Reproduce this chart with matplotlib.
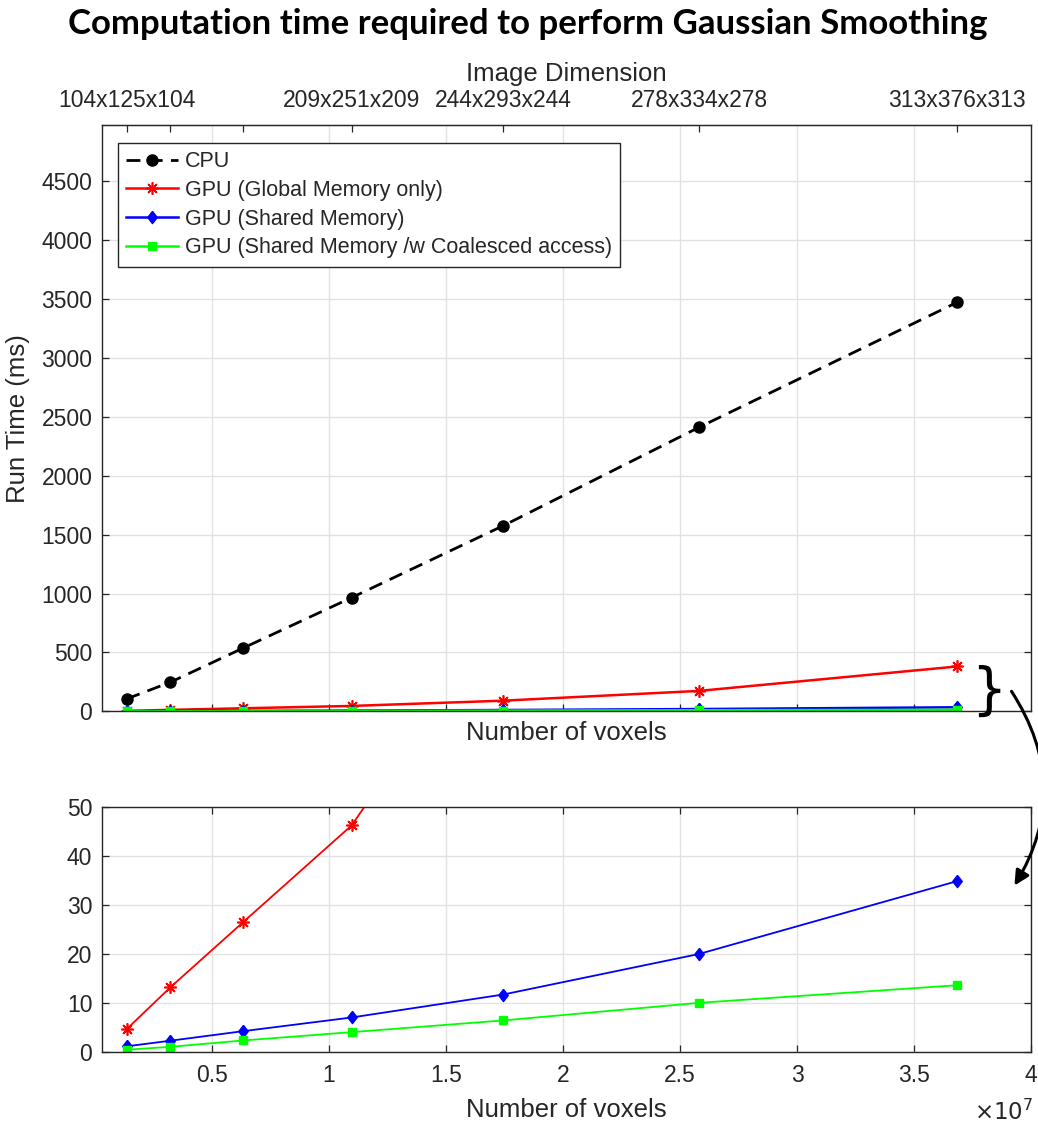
import matplotlib
matplotlib.use("Agg")
import matplotlib.pyplot as plt

# ------------------------------
# Data
# ------------------------------
voxels = [1352000, 3226607, 6327684, 10963931, 17444048, 25812856, 36836344]
dim_labels = ['104x125x104', '', '', '209x251x209', '244x293x244',
              '278x334x278', '313x376x313']

cpu_ms = [106, 248, 537, 965, 1575, 2410, 3470]
gpu_global_ms = [4.6, 13.2, 26.5, 46.3, 91, 174, 381]
gpu_shared_ms = [1.1, 2.25, 4.2, 7.0, 11.7, 20.0, 34.9]
gpu_coalesced_ms = [0.4, 1.0, 2.3, 4.0, 6.4, 10.0, 13.6]

series_names = ['CPU', 'GPU (Global Memory only)', 'GPU (Shared Memory)',
                'GPU (Shared Memory /w Coalesced access)']

x_ticks = [0.5e7, 1e7, 1.5e7, 2e7, 2.5e7, 3e7, 3.5e7, 4e7]
x_ticklabels = ['0.5', '1', '1.5', '2', '2.5', '3', '3.5', '4']
y_ticks_top = list(range(0, 5000, 500))
y_ticks_bottom = [0, 10, 20, 30, 40, 50]

# ------------------------------
# Style
# ------------------------------
plt.rcParams['font.family'] = ['Liberation Sans', 'DejaVu Sans']
AX = '#262626'
GRID = '#e2e2e2'
TICK_FS = 16.5
LABEL_FS = 18.5
diamond = [(0, 1), (0.78, 0), (0, -1), (-0.78, 0), (0, 1)]
asterisk = (8, 2, 0)


def style_axes(ax):
    for s in ax.spines.values():
        s.set_color(AX)
        s.set_linewidth(1.0)
    ax.grid(True, color=GRID, linewidth=1.0)
    ax.set_axisbelow(True)
    ax.tick_params(direction='in', length=5, width=0.9, colors=AX,
                   labelsize=TICK_FS, labelcolor=AX)


def draw_series(ax, lw, lw_gpu, ms):
    ax.plot(voxels, cpu_ms, '--', color='k', lw=lw, marker='o', ms=ms,
            dashes=(5, 3), label=series_names[0])
    ax.plot(voxels, gpu_global_ms, '-', color='r', lw=lw_gpu, marker=asterisk,
            ms=ms * 1.1, mew=1.2, mec='r', label=series_names[1])
    ax.plot(voxels, gpu_shared_ms, '-', color='b', lw=lw_gpu, marker=diamond,
            ms=ms * 1.1, mfc='b', mec='b', label=series_names[2])
    ax.plot(voxels, gpu_coalesced_ms, '-', color='#00ff00', lw=lw_gpu, marker='s',
            ms=ms * 0.8, mfc='#00ff00', mec='#00ff00', label=series_names[3])


fig = plt.figure(figsize=(10.38, 11.24), dpi=100)
W, H = 1038.0, 1124.0

# ------------------------------
# Upper panel (full range)
# ------------------------------
ax1 = fig.add_axes([102 / W, 1 - 711.4 / H, 929 / W, 586.4 / H])
style_axes(ax1)
draw_series(ax1, 2.0, 1.8, 8)
ax1.set_xlim(0.03e7, 4e7)
ax1.set_ylim(0, 4975)
ax1.set_xticks(x_ticks[:-1])
ax1.set_xticklabels([])
ax1.set_yticks(y_ticks_top)
ax1.tick_params(right=True, top=False, pad=7)
ax1.set_xlabel('Number of voxels', fontsize=LABEL_FS, color=AX, labelpad=0)
ax1.set_ylabel('Run Time (ms)', fontsize=LABEL_FS, color=AX, labelpad=8)

top = ax1.secondary_xaxis('top')
top.set_xticks(voxels)
top.set_xticklabels(dim_labels)
top.tick_params(direction='in', length=5, width=0.9, colors=AX,
                labelsize=TICK_FS, labelcolor=AX, pad=9)
top.spines['top'].set_color(AX)
top.set_xlabel('Image Dimension', fontsize=LABEL_FS, color=AX, labelpad=6)

leg = ax1.legend(loc='upper left', bbox_to_anchor=(0.017, 0.97),
                 borderaxespad=0, fontsize=15.5, handlelength=2.4,
                 handletextpad=0.3, labelspacing=0.36, borderpad=0.4,
                 fancybox=False, framealpha=1)
leg.get_frame().set_edgecolor(AX)
leg.get_frame().set_linewidth(1.0)
for t in leg.get_texts():
    t.set_color(AX)

# ------------------------------
# Lower panel (zoom on the GPU curves)
# ------------------------------
ax2 = fig.add_axes([102 / W, 1 - 1051.7 / H, 929 / W, 244.3 / H])
style_axes(ax2)
draw_series(ax2, 1.6, 1.3, 8)
ax2.set_xlim(0.03e7, 4e7)
ax2.set_ylim(0, 50)
ax2.set_xticks(x_ticks)
ax2.set_xticklabels(x_ticklabels)
ax2.set_yticks(y_ticks_bottom)
ax2.tick_params(right=True, top=True, pad=7)
ax2.tick_params(axis='x', pad=9)
ax2.set_xlabel('Number of voxels', fontsize=LABEL_FS, color=AX, labelpad=8)
ax2.text(1.002, -0.25, r'$\times10^{7}$', transform=ax2.transAxes,
         ha='right', va='center', fontsize=TICK_FS, color=AX)

# ------------------------------
# Title, brace and arrow linking the two panels
# ------------------------------
fig.text(0.508, 1 - 24 / H, 'Computation time required to perform Gaussian Smoothing',
         ha='center', va='center', fontsize=25, fontweight='bold',
         family=['Lato', 'DejaVu Sans'], color='black')

fig.text(989 / W, 1 - 692 / H, '}', ha='center', va='center', fontsize=40,
         color='black', family=['DejaVu Sans'])

fig.add_artist(matplotlib.patches.FancyArrowPatch(
    (1010 / W, 1 - 689 / H), (1013 / W, 1 - 888 / H),
    transform=fig.transFigure, connectionstyle='arc3,rad=-0.32',
    arrowstyle='-|>', mutation_scale=22, lw=2.2, color='black'))

fig.savefig('out.png', dpi=100)
